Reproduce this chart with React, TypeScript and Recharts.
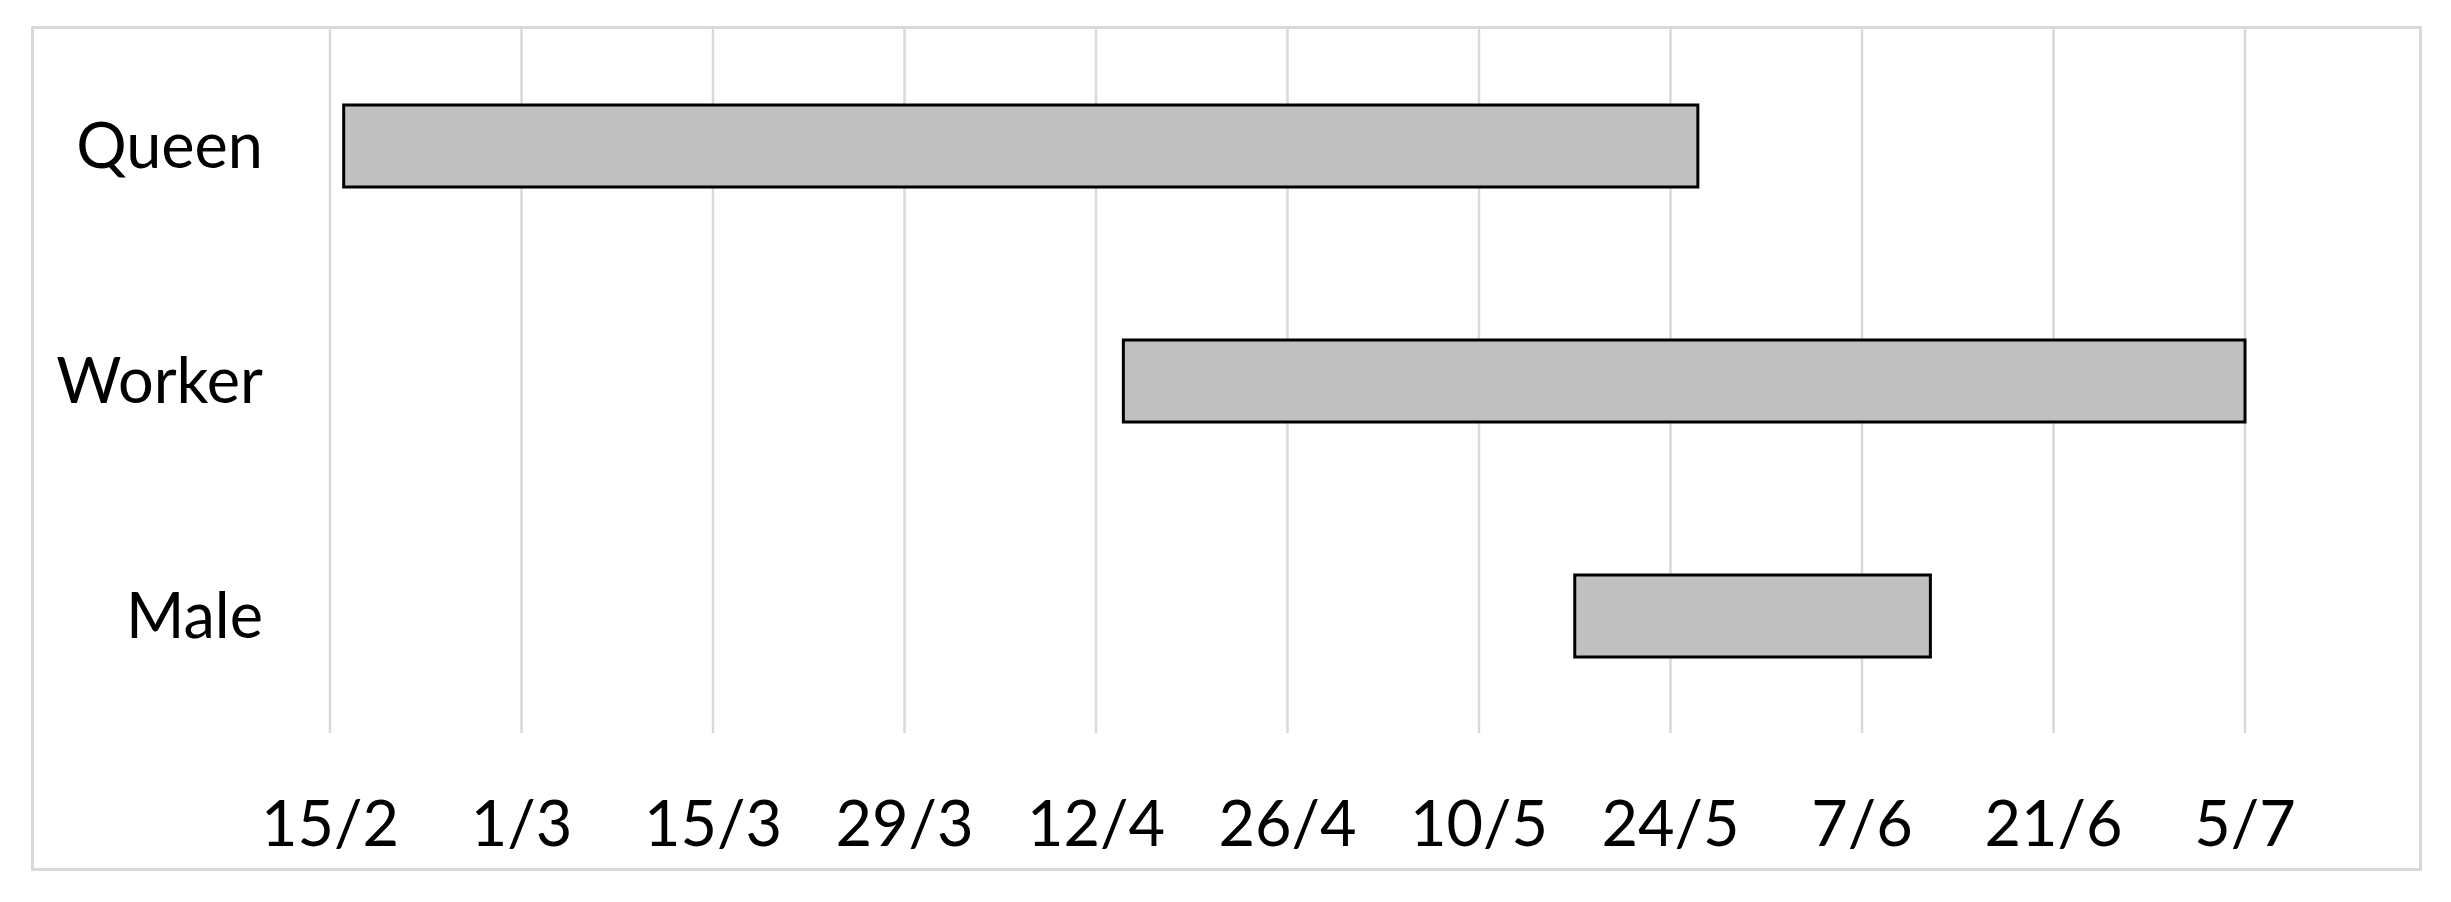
import { BarChart, Bar, XAxis, YAxis, CartesianGrid } from 'recharts';

const CASTES = ['Queen', 'Worker', 'Male'];
const STARTS = ['16/2', '14/4', '17/5'];
const ENDS = ['26/5', '5/7', '12/6'];
const TICK_LABELS = ['15/2', '1/3', '15/3', '29/3', '12/4', '26/4', '10/5', '24/5', '7/6', '21/6', '5/7'];

const MONTH_DAYS = [31, 28, 31, 30, 31, 30, 31, 31, 30, 31, 30, 31];

// day/month -> days since 15 February
function toDay(s: string): number {
  const [d, m] = s.split('/').map(Number);
  let doy = d;
  for (let i = 0; i < m - 1; i++) doy += MONTH_DAYS[i];
  return doy - 46;
}

const TICK_DAYS = TICK_LABELS.map(toDay);

const data = CASTES.map((name, i) => ({
  name,
  range: [toDay(STARTS[i]), toDay(ENDS[i])],
}));

const FONT = 'Lato, "Open Sans", sans-serif';

export default function App() {
  return (
    <div style={{ position: 'absolute', left: 0, top: 0, width: 2451, height: 902, background: '#fff' }}>
      <div
        style={{
          position: 'absolute',
          left: 31,
          top: 26,
          width: 2391,
          height: 845,
          border: '3px solid #d9d9d9',
          boxSizing: 'border-box',
        }}
      />
      <div style={{ position: 'absolute', left: 0, top: 0 }}>
        <BarChart
          width={2451}
          height={902}
          data={data}
          layout="vertical"
          margin={{ top: 28, right: 206, left: 0, bottom: 33 }}
        >
          <CartesianGrid horizontal={false} stroke="#d9d9d9" strokeWidth={2.5} />
          <XAxis
            type="number"
            domain={[0, 140]}
            ticks={TICK_DAYS}
            tickFormatter={(v: number) => TICK_LABELS[TICK_DAYS.indexOf(v)]}
            axisLine={false}
            tickLine={false}
            tickSize={0}
            tickMargin={68}
            height={136}
            interval={0}
            tick={{ fill: '#000', fontSize: 63, fontFamily: FONT }}
          />
          <YAxis
            type="category"
            dataKey="name"
            axisLine={false}
            tickLine={false}
            tickSize={0}
            tickMargin={67}
            width={330}
            tick={{ fill: '#000', fontSize: 63, fontFamily: FONT }}
          />
          <Bar
            dataKey="range"
            fill="#c0c0c0"
            stroke="#000"
            strokeWidth={3}
            barSize={82}
            isAnimationActive={false}
          />
        </BarChart>
      </div>
    </div>
  );
}
